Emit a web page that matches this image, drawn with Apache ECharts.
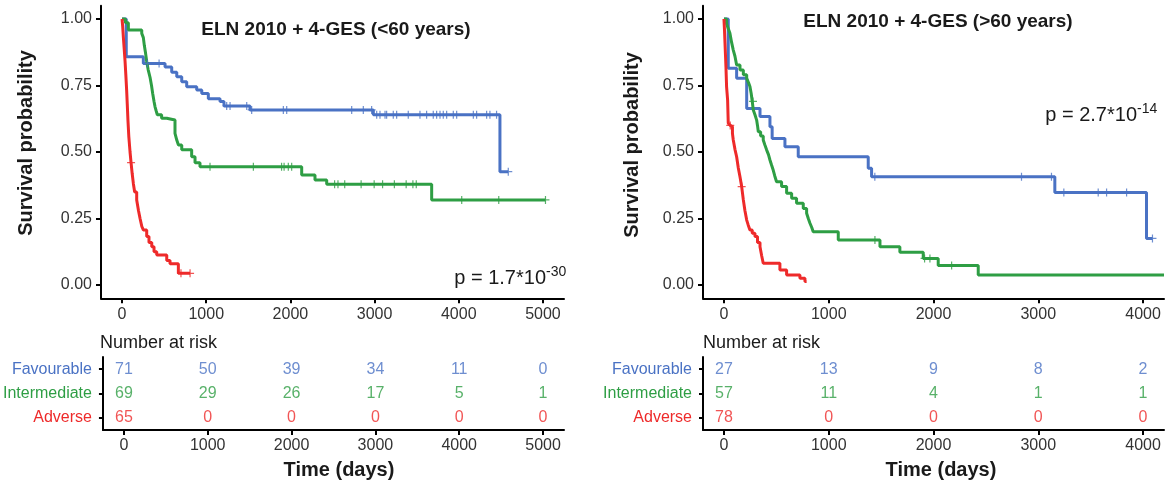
<!DOCTYPE html>
<html>
<head>
<meta charset="utf-8">
<title>ELN 2010 + 4-GES</title>
<script src="https://cdn.jsdelivr.net/npm/echarts@6/dist/echarts.min.js"></script>
<style>
html, body { margin: 0; padding: 0; background: #fff; }
#chart { width: 1171px; height: 484px; }
</style>
</head>
<body>
<div id="chart"></div>
<script>
// risk groups
const groups = ['Favourable', 'Intermediate', 'Adverse']
const colors = ['#4a72c4', '#2e9e44', '#ee2a2a']

// ---- <60 years : survival steps (time in days, survival after event) ----
const favYoungT = [0, 50, 253, 511, 590, 650, 709, 768, 887, 947, 1025, 1164, 1211, 1520, 2985, 4489, 4588]
const favYoungS = [1, 0.858, 0.833, 0.82, 0.80, 0.783, 0.764, 0.745, 0.733, 0.72, 0.70, 0.69, 0.673, 0.658, 0.64, 0.426, 0.426]
const favYoungCens = [300, 440, 1243, 1283, 1481, 1540, 1916, 1956, 2728, 2866, 2965, 3025, 3064, 3124, 3143, 3222, 3262, 3400, 3539, 3618, 3697, 3737, 3777, 3816, 3856, 3935, 3975, 4173, 4212, 4331, 4370, 4449, 4588]

const intYoungT = [0, 40, 75, 234, 253, 265, 280, 293, 310, 333, 350, 364, 380, 392, 405, 419, 470, 531, 629, 650, 670, 709, 827, 867, 926, 2134, 2292, 2431, 3678, 5030]
const intYoungS = [1, 0.986, 0.959, 0.946, 0.93, 0.90, 0.87, 0.84, 0.81, 0.78, 0.75, 0.72, 0.69, 0.67, 0.655, 0.64, 0.627, 0.62, 0.57, 0.545, 0.526, 0.508, 0.482, 0.46, 0.445, 0.414, 0.395, 0.379, 0.32, 0.32]
const intYoungCens = [1045, 1560, 1895, 1925, 1975, 2015, 2525, 2565, 2645, 2840, 2995, 3095, 3235, 3375, 3455, 3495, 4035, 4475, 5030]

const advYoungT = [0, 8, 16, 25, 36, 45, 55, 62, 70, 80, 95, 107, 120, 135, 150, 174, 195, 214, 235, 253, 293, 320, 353, 380, 412, 531, 570, 669, 808]
const advYoungS = [1, 0.97, 0.93, 0.89, 0.84, 0.79, 0.73, 0.68, 0.62, 0.56, 0.50, 0.46, 0.42, 0.38, 0.35, 0.32, 0.28, 0.25, 0.22, 0.207, 0.182, 0.16, 0.144, 0.125, 0.113, 0.092, 0.08, 0.044, 0.044]
const advYoungCens = [107, 700, 808]

// ---- >60 years ----
const favOldT = [0, 41, 121, 217, 344, 439, 460, 582, 709, 1377, 1409, 3158, 4033, 4090]
const favOldS = [1, 0.815, 0.777, 0.664, 0.633, 0.595, 0.551, 0.52, 0.482, 0.439, 0.407, 0.348, 0.175, 0.175]
const favOldCens = [1440, 2840, 3126, 3244, 3572, 3652, 3843, 4090]

const intOldT = [0, 25, 40, 57, 73, 89, 105, 121, 153, 185, 217, 235, 248, 260, 270, 280, 296, 312, 320, 328, 350, 375, 390, 407, 425, 439, 455, 470, 485, 502, 550, 598, 646, 693, 757, 789, 805, 821, 838, 852, 1091, 1489, 1679, 1902, 2045, 2427, 4200]
const intOldS = [1, 0.982, 0.965, 0.946, 0.912, 0.883, 0.86, 0.827, 0.808, 0.79, 0.777, 0.76, 0.746, 0.72, 0.69, 0.658, 0.64, 0.62, 0.60, 0.576, 0.56, 0.545, 0.527, 0.508, 0.49, 0.47, 0.45, 0.432, 0.41, 0.388, 0.37, 0.345, 0.326, 0.307, 0.288, 0.27, 0.25, 0.232, 0.216, 0.2, 0.169, 0.144, 0.123, 0.1, 0.073, 0.038, 0.038]
const intOldCens = [277, 1441, 1915, 1966, 2173]

const advOldT = [0, 5, 10, 15, 19, 25, 30, 35, 41, 60, 73, 81, 89, 105, 121, 137, 153, 169, 185, 200, 217, 232, 248, 270, 296, 320, 344, 360, 375, 534, 598, 725, 773, 789]
const advOldS = [1, 0.96, 0.909, 0.86, 0.821, 0.746, 0.72, 0.695, 0.608, 0.60, 0.595, 0.57, 0.545, 0.51, 0.482, 0.44, 0.407, 0.37, 0.32, 0.28, 0.244, 0.225, 0.207, 0.195, 0.182, 0.16, 0.144, 0.11, 0.082, 0.056, 0.038, 0.025, 0.013, 0.013]
const advOldCens = [60, 169]

// ---- number at risk ----
const riskTimesYoung = [0, 1000, 2000, 3000, 4000, 5000]
const riskFavYoung = [71, 50, 39, 34, 11, 0]
const riskIntYoung = [69, 29, 26, 17, 5, 1]
const riskAdvYoung = [65, 0, 0, 0, 0, 0]
const riskTimesOld = [0, 1000, 2000, 3000, 4000]
const riskFavOld = [27, 13, 9, 8, 2]
const riskIntOld = [57, 11, 4, 1, 1]
const riskAdvOld = [78, 0, 0, 0, 0]

// tick labels
const xTicksYoung = [0, 1000, 2000, 3000, 4000, 5000]
const xTicksOld = [0, 1000, 2000, 3000, 4000]
const yTicks = [0, 0.25, 0.5, 0.75, 1]

const FONT = '"Liberation Sans", Arial, sans-serif'
const TXT = '#333'
// '+' censor mark
const plusPath = 'path://M0,3.4H3.4V0H4.6V3.4H8V4.6H4.6V8H3.4V4.6H0Z'

const survAt = (ts, ss, t) => {
  let s = 1
  ts.forEach((x, i) => { if (x <= t) s = ss[i] })
  return s
}

const kmLine = (ts, ss, color, ax) => ({
  type: 'line', xAxisIndex: ax, yAxisIndex: ax, step: 'end', showSymbol: false,
  data: ts.map((t, i) => [t, ss[i]]),
  lineStyle: { color: color, width: 3 }, itemStyle: { color: color }, z: 3
})

const censor = (cs, ts, ss, color, ax) => ({
  type: 'scatter', xAxisIndex: ax, yAxisIndex: ax, symbol: plusPath, symbolSize: 8,
  data: cs.map((t) => [t, survAt(ts, ss, t)]),
  itemStyle: { color: color }, z: 4
})

const riskRow = (times, vals, row, ax) => ({
  type: 'scatter', xAxisIndex: ax, yAxisIndex: ax, symbolSize: 1,
  data: times.map((t, i) => [t, row, vals[i]]),
  itemStyle: { color: 'transparent' },
  label: {
    show: true, position: 'inside', formatter: (p) => String(p.value[2]),
    color: colors[row], fontSize: 16, fontFamily: FONT
  }
})

const axisLineStyle = { show: true, onZero: false, lineStyle: { color: '#000', width: 2 } }
const tickStyle = { lineStyle: { color: '#000', width: 2 }, length: 5 }

const kmX = (min, max, ticks) => ({
  type: 'value', min: min, max: max, splitLine: { show: false },
  axisLine: axisLineStyle,
  axisTick: Object.assign({ show: true, customValues: ticks }, tickStyle),
  axisLabel: { customValues: ticks, formatter: (v) => String(v), color: TXT, fontSize: 16, fontFamily: FONT, margin: 8 }
})

const kmY = () => ({
  type: 'value', min: -0.05, max: 1.05, splitLine: { show: false },
  axisLine: axisLineStyle,
  axisTick: Object.assign({ show: true, customValues: yTicks }, tickStyle),
  axisLabel: { customValues: yTicks, formatter: (v) => v.toFixed(2), color: TXT, fontSize: 16, fontFamily: FONT, margin: 9 }
})

const tableY = () => ({
  type: 'category', data: groups, inverse: true,
  axisLine: { show: true, onZero: false, lineStyle: { color: '#000', width: 2 } },
  axisTick: { show: true, alignWithLabel: true, length: 4, lineStyle: { color: '#000', width: 2 } },
  axisLabel: { color: (v, i) => colors[i], fontSize: 16, fontFamily: FONT, margin: 11 }
})

const txt = (x, y, text, opts) => ({
  type: 'text', x: x, y: y,
  style: Object.assign({ text: text, fill: '#1a1a1a', font: '16px ' + FONT, textAlign: 'left', textVerticalAlign: 'middle' }, opts || {})
})

const option = {
  animation: false,
  grid: [
    { left: 101, top: 5.7, width: 463, height: 292.6 },
    { left: 101, top: 357, width: 463, height: 73 },
    { left: 703, top: 5.7, width: 461, height: 292.6 },
    { left: 703, top: 357, width: 461, height: 73 }
  ],
  xAxis: [
    Object.assign(kmX(-250, 5250, xTicksYoung), { gridIndex: 0 }),
    Object.assign(kmX(-250, 5250, xTicksYoung), { gridIndex: 1 }),
    Object.assign(kmX(-200, 4200, xTicksOld), { gridIndex: 2 }),
    Object.assign(kmX(-200, 4200, xTicksOld), { gridIndex: 3 })
  ],
  yAxis: [
    Object.assign(kmY(), { gridIndex: 0 }),
    Object.assign(tableY(), { gridIndex: 1 }),
    Object.assign(kmY(), { gridIndex: 2 }),
    Object.assign(tableY(), { gridIndex: 3 })
  ],
  series: [
    kmLine(favYoungT, favYoungS, colors[0], 0),
    kmLine(intYoungT, intYoungS, colors[1], 0),
    kmLine(advYoungT, advYoungS, colors[2], 0),
    censor(favYoungCens, favYoungT, favYoungS, colors[0], 0),
    censor(intYoungCens, intYoungT, intYoungS, colors[1], 0),
    censor(advYoungCens, advYoungT, advYoungS, colors[2], 0),
    riskRow(riskTimesYoung, riskFavYoung, 0, 1),
    riskRow(riskTimesYoung, riskIntYoung, 1, 1),
    riskRow(riskTimesYoung, riskAdvYoung, 2, 1),
    kmLine(favOldT, favOldS, colors[0], 2),
    kmLine(intOldT, intOldS, colors[1], 2),
    kmLine(advOldT, advOldS, colors[2], 2),
    censor(favOldCens, favOldT, favOldS, colors[0], 2),
    censor(intOldCens, intOldT, intOldS, colors[1], 2),
    censor(advOldCens, advOldT, advOldS, colors[2], 2),
    riskRow(riskTimesOld, riskFavOld, 0, 3),
    riskRow(riskTimesOld, riskIntOld, 1, 3),
    riskRow(riskTimesOld, riskAdvOld, 2, 3)
  ],
  graphic: [
    txt(336, 30, 'ELN 2010 + 4-GES (<60 years)', { font: 'bold 19px ' + FONT, textAlign: 'center' }),
    txt(938, 22, 'ELN 2010 + 4-GES (>60 years)', { font: 'bold 19px ' + FONT, textAlign: 'center' }),
    Object.assign(txt(26, 143, 'Survival probability', { font: 'bold 20px ' + FONT, textAlign: 'center' }), { rotation: Math.PI / 2 }),
    Object.assign(txt(632, 145, 'Survival probability', { font: 'bold 20px ' + FONT, textAlign: 'center' }), { rotation: Math.PI / 2 }),
    txt(339, 470, 'Time (days)', { font: 'bold 20px ' + FONT, textAlign: 'center' }),
    txt(941, 470, 'Time (days)', { font: 'bold 20px ' + FONT, textAlign: 'center' }),
    txt(100, 343, 'Number at risk', { font: '18px ' + FONT }),
    txt(703, 343, 'Number at risk', { font: '18px ' + FONT }),
    txt(546, 278, 'p = 1.7*10', { font: '20px ' + FONT, textAlign: 'right' }),
    txt(546, 272, '-30', { font: '14px ' + FONT }),
    txt(1137, 115, 'p = 2.7*10', { font: '20px ' + FONT, textAlign: 'right' }),
    txt(1137, 109, '-14', { font: '14px ' + FONT })
  ]
}

const chart = echarts.init(document.getElementById('chart'))
chart.setOption(option)
</script>
</body>
</html>
